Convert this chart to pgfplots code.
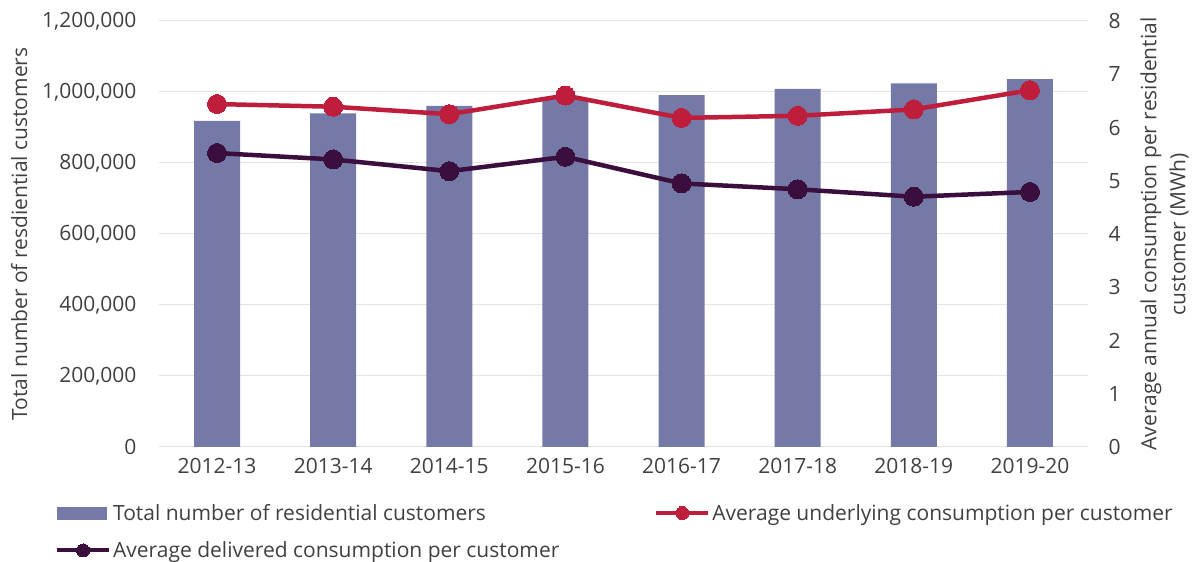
\documentclass[border=0pt]{standalone}
\usepackage{fontspec}
\setmainfont{Open Sans}
\usepackage{pgfplots}
\pgfplotsset{compat=1.18}
\definecolor{barc}{HTML}{7579A8}
\definecolor{redc}{HTML}{BE1E3C}
\definecolor{darkc}{HTML}{3A0F3E}
\definecolor{txt}{HTML}{404040}
\definecolor{gridc}{HTML}{E4E4E4}
\begin{document}
\begin{tikzpicture}[font=\fontsize{21}{29}\selectfont]
\begin{axis}[
  scale only axis, width=929pt, height=426pt,
  xmin=-0.5, xmax=7.5, ymin=0, ymax=1200000,
  axis y line*=left, axis x line*=bottom,
  axis line style={draw=none},
  xtick={0,...,7},
  xticklabels={2012-13,2013-14,2014-15,2015-16,2016-17,2017-18,2018-19,2019-20},
  ytick={0,200000,400000,600000,800000,1000000,1200000},
  ymajorgrids, grid style={gridc, line width=1pt},
  major tick style={draw=none},
  scaled y ticks=false,
  /pgf/number format/assume math mode=true,
  /pgf/number format/fixed,
  /pgf/number format/1000 sep={,},
  ticklabel style={text=txt},
  yticklabel style={xshift=-19pt},
  xticklabel style={yshift=-8pt},
  ylabel={Total number of resdiential customers},
  ylabel style={text=txt, yshift=8pt},
]
\addplot[ybar, bar width=46pt, bar shift=0pt, fill=barc, draw=none] coordinates {
(0,919000) (1,940000) (2,961000) (3,983000) (4,991000) (5,1009000) (6,1024000) (7,1036000)};
\end{axis}
\begin{axis}[
  scale only axis, width=929pt, height=426pt,
  xmin=-0.5, xmax=7.5, ymin=0, ymax=8,
  axis y line*=right, axis x line=none,
  axis line style={draw=none},
  major tick style={draw=none},
  ytick={0,1,...,8},
  /pgf/number format/assume math mode=true,
  yticklabel style={text=txt, xshift=17pt},
  ylabel={Average annual consumption per residential\\customer (MWh)},
  ylabel style={text=txt, align=center, yshift=-13pt},
  legend columns=2,
  legend cell align=left,
  legend style={at={(-0.112,0)}, anchor=north west, yshift=-55pt, draw=none, fill=none,
    inner sep=0pt, text=txt, row sep=16pt, nodes={inner sep=2pt},
    /tikz/every even column/.append style={column sep=93pt}},
  legend image code/.code={\draw[#1, line width=4pt, mark size=6.5pt, mark repeat=2, mark phase=2] plot coordinates {(0pt,0pt) (26pt,0pt) (52pt,0pt)};},
]
\addlegendimage{legend image code/.code={\fill[barc] (0pt,-6pt) rectangle (49pt,6pt);}}
\addlegendentry{Total number of residential customers}
\addplot[redc, line width=4.5pt, mark=*, mark size=9.5pt, mark options={fill=redc, draw=redc, line width=0pt}] coordinates {
(0,6.44) (1,6.39) (2,6.25) (3,6.60) (4,6.18) (5,6.22) (6,6.34) (7,6.70)};
\addlegendentry{Average underlying consumption per customer}
\addplot[darkc, line width=4.5pt, mark=*, mark size=9.5pt, mark options={fill=darkc, draw=darkc, line width=0pt}] coordinates {
(0,5.52) (1,5.40) (2,5.18) (3,5.45) (4,4.95) (5,4.84) (6,4.70) (7,4.79)};
\addlegendentry{Average delivered consumption per customer}
\end{axis}
\pgfresetboundingbox
\path[use as bounding box] (-159pt,-115pt) rectangle (1036pt,447pt);
\end{tikzpicture}
\end{document}
